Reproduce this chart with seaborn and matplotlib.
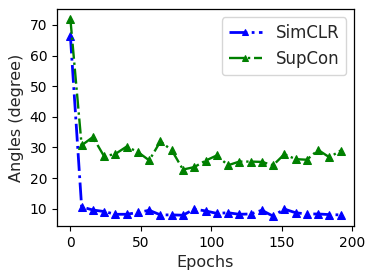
import numpy as np
import pandas as pd
import matplotlib
matplotlib.use('Agg')
import matplotlib.pyplot as plt
import seaborn as sns

epochs = list(range(0, 200, 8))
simclr = [66.5, 10.6, 9.6, 9.1, 8.2, 8.2, 8.8, 9.5, 8.0, 8.0, 7.9, 9.9, 9.3,
          8.5, 8.7, 8.2, 8.3, 9.5, 7.6, 9.9, 8.7, 8.3, 8.3, 8.1, 8.0]
supcon = [72.0, 30.7, 33.4, 27.1, 27.9, 30.3, 28.5, 25.8, 32.0, 29.1, 22.8, 23.6, 25.7,
          27.4, 24.2, 25.4, 25.4, 25.3, 24.2, 27.8, 26.2, 26.0, 29.2, 26.8, 29.0]

df = pd.DataFrame({'Epochs': epochs, 'SimCLR': simclr, 'SupCon': supcon})

sns.set_style('ticks')
plt.rcParams['font.family'] = ['DejaVu Sans']

fig, ax = plt.subplots(figsize=(3.74, 2.79), dpi=100)
fig.subplots_adjust(left=0.152, right=0.947, top=0.968, bottom=0.19)

sns.lineplot(data=df, x='Epochs', y='SimCLR', ax=ax, color='blue', linestyle='-.',
             marker='^', markersize=6, markeredgecolor='blue', linewidth=2, label='SimCLR')
sns.lineplot(data=df, x='Epochs', y='SupCon', ax=ax, color='green', linestyle='-.',
             marker='^', markersize=6, markeredgecolor='green', linewidth=1.7, label='SupCon')

ax.set_xlabel('Epochs', fontsize=11.5)
ax.set_ylabel('Angles (degree)', fontsize=11.5)
ax.set_xticks([0, 50, 100, 150, 200])
ax.set_yticks([10, 20, 30, 40, 50, 60, 70])
ax.tick_params(labelsize=10, colors='black')
for s in ax.spines.values():
    s.set_color('black')
    s.set_linewidth(0.9)
ax.legend(loc='upper right', fontsize=12, handlelength=2, markerscale=0.7)

fig.savefig('out.png', dpi=100)
